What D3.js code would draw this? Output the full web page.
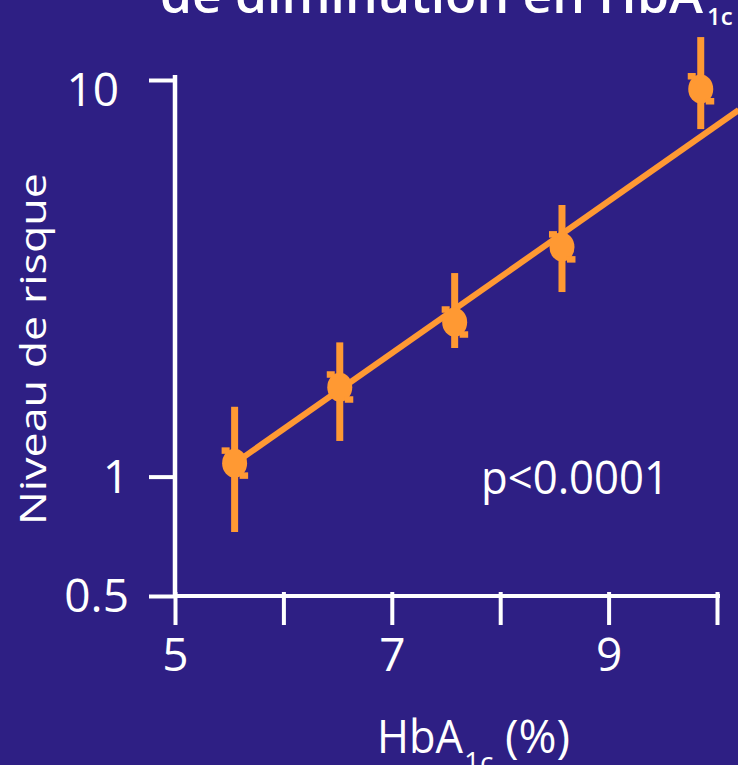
<!DOCTYPE html>
<html><head><meta charset="utf-8">
<script src="https://cdn.jsdelivr.net/npm/d3@7"></script>
<style>html,body{margin:0;padding:0;background:#2E1F84;overflow:hidden}text{font-family:"Open Sans",sans-serif;fill:#fff}</style>
</head><body><svg id="c" width="738" height="765"></svg>
<script>
// data
const hba1c    = [5.55, 6.52, 7.58, 8.57, 9.85];
const risk     = [1.08, 1.68, 2.45, 3.79, 9.49];
const riskLow  = [0.725, 1.23, 2.11, 2.92, 7.52];
const riskHigh = [1.50, 2.18, 3.26, 4.84, 12.83];
const fitX = [5.55, 10.2];
const fitY = [1.08, 8.40];
const xTicks = [5, 6, 7, 8, 9, 10];
const xTickLabels = ["5", "", "7", "", "9", ""];
const yTicks = [0.5, 1, 10];
const yTickLabels = ["0.5", "1", "10"];
const pText = "p<0.0001";

const W = 738, H = 765;
const bg = "#2E1F84", orange = "#FF9933";
const svg = d3.select("#c");
svg.append("rect").attr("width", W).attr("height", H).attr("fill", bg);

const x = d3.scaleLinear().domain([5, 10]).range([175, 717]);
const y = d3.scaleLog().domain([0.5, 10]).range([596, 80]);

// title (cut at top, as in the reference)
svg.append("text").attr("x", 160).attr("y", 13).attr("font-size", 48).attr("font-weight", 600)
  .attr("textLength", 543).attr("lengthAdjust", "spacingAndGlyphs").text("de diminution en HbA");
svg.append("text").attr("x", 707).attr("y", 25).attr("font-size", 24).attr("font-weight", 600).text("1c");

// axes
const xAxis = d3.axisBottom(x).tickValues(xTicks).tickFormat((d, i) => xTickLabels[i])
  .tickSize(29).tickSizeOuter(0).tickPadding(13);
const gx = svg.append("g").attr("transform", `translate(0,${y(0.5)})`).call(xAxis);
gx.select(".domain").remove();
gx.selectAll(".tick line").attr("stroke", "#fff").attr("stroke-width", 4).attr("y1", -4);
gx.selectAll(".tick text").attr("font-size", 46).attr("fill", "#fff").attr("font-family", "Open Sans");
gx.append("line").attr("x1", x(5) - 2).attr("x2", x(10) + 3).attr("stroke", "#fff").attr("stroke-width", 4);

const yAxis = d3.axisLeft(y).tickValues(yTicks).tickFormat((d, i) => yTickLabels[i])
  .tickSize(26).tickSizeOuter(0).tickPadding(20);
const gy = svg.append("g").attr("transform", `translate(${x(5)},0)`).call(yAxis);
gy.select(".domain").remove();
gy.selectAll(".tick line").attr("stroke", "#fff").attr("stroke-width", 4);
gy.selectAll(".tick text").attr("font-size", 46).attr("fill", "#fff").attr("font-family", "Open Sans")
  .attr("dx", d => d === 10 ? -10 : 0).attr("dy", d => d === 10 ? "0.55em" : "0.34em");
gy.append("line").attr("y1", y(0.5) + 2).attr("y2", y(10) - 5).attr("stroke", "#fff").attr("stroke-width", 4.5);

// axis titles
svg.append("text").attr("transform", "translate(46,349) rotate(-90)").attr("text-anchor", "middle")
  .attr("font-size", 37).attr("textLength", 352).attr("lengthAdjust", "spacingAndGlyphs").text("Niveau de risque");
svg.append("text").attr("x", 377).attr("y", 753).attr("font-size", 46)
  .attr("textLength", 86).attr("lengthAdjust", "spacingAndGlyphs").text("HbA");
svg.append("text").attr("x", 464).attr("y", 772).attr("font-size", 28).text("1c");
svg.append("text").attr("x", 505).attr("y", 753).attr("font-size", 46).text("(%)");

// p value
svg.append("text").attr("x", 481).attr("y", 494).attr("font-size", 46)
  .attr("textLength", 188).attr("lengthAdjust", "spacingAndGlyphs").text(pText);

// regression line
const fit = fitX.map((v, i) => [v, fitY[i]]);
svg.append("path").attr("d", d3.line().x(d => x(d[0])).y(d => y(d[1]))(fit))
  .attr("stroke", orange).attr("stroke-width", 6).attr("fill", "none");

// points with error bars
const pts = hba1c.map((v, i) => ({x: v, y: risk[i], lo: riskLow[i], hi: riskHigh[i]}));
const g = svg.append("g").selectAll("g").data(pts).join("g");
g.append("line").attr("x1", d => x(d.x)).attr("x2", d => x(d.x))
  .attr("y1", d => y(d.hi)).attr("y2", d => y(d.lo)).attr("stroke", orange).attr("stroke-width", 7);
g.append("ellipse").attr("cx", d => x(d.x)).attr("cy", d => y(d.y)).attr("rx", 12.5).attr("ry", 14.5).attr("fill", orange);
g.append("rect").attr("x", d => x(d.x) - 13).attr("y", d => y(d.y) - 16).attr("width", 8).attr("height", 6.5).attr("fill", orange);
g.append("rect").attr("x", d => x(d.x) + 5).attr("y", d => y(d.y) + 9).attr("width", 8.5).attr("height", 6.5).attr("fill", orange);
</script></body></html>
